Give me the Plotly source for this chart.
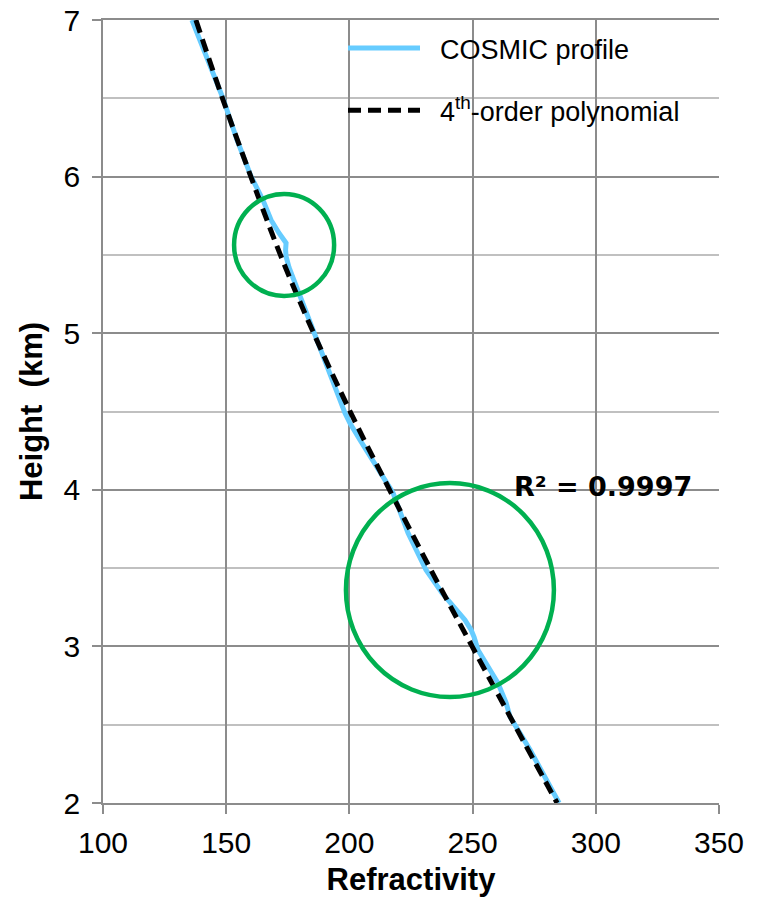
import plotly.graph_objects as go

# COSMIC refractivity profile (refractivity, height km)
cosmic_refractivity = [136.1, 148.7, 154.4, 160.1, 164.9, 168.2, 171.4, 174.3, 174.1, 174.3,
                       175.5, 179.1, 186.0, 190.9, 196.2, 198.2, 200.2, 204.3, 211.0, 217.7,
                       223.8, 227.4, 231.1, 237.6, 243.7, 246.9, 249.4, 250.6, 252.2, 260.3,
                       263.6, 265.2, 273.3, 285.1]
cosmic_height = [7.0, 6.5, 6.234, 6.0, 5.851, 5.723, 5.64, 5.576, 5.531, 5.49,
                 5.42, 5.276, 5.0, 4.784, 4.573, 4.49, 4.426, 4.318, 4.146, 3.98,
                 3.724, 3.616, 3.488, 3.341, 3.232, 3.169, 3.105, 3.06, 2.977, 2.766,
                 2.64, 2.55, 2.34, 2.0]

# 4th-order polynomial trendline
poly_refractivity = [137.7, 148.5, 160.0, 172.0, 185.5, 200.3, 216.3, 232.7, 249.8, 267.0, 284.3]
poly_height = [7.0, 6.5, 6.0, 5.5, 5.0, 4.5, 4.0, 3.5, 3.0, 2.5, 2.0]

x_ticks = [100, 150, 200, 250, 300, 350]
y_ticks = [2, 3, 4, 5, 6, 7]

# highlighted regions (data coordinates): x0, x1, y0, y1
circles = [
    (153.2, 193.8, 5.238, 5.889),
    (198.6, 283.0, 2.677, 4.043),
]
r2_text = "<b>R² = 0.9997</b>"

NB = "\u00a0\u00a0"

fig = go.Figure()
fig.add_trace(go.Scatter(
    x=cosmic_refractivity, y=cosmic_height, mode="lines", name=NB + "COSMIC profile",
    line=dict(color="#66CCFF", width=5), legendgroup="a"))
fig.add_trace(go.Scatter(
    x=poly_refractivity, y=poly_height, mode="lines",
    name=NB + "4<sup>th</sup>-order polynomial", line_shape="spline",
    line=dict(color="black", width=5, dash="13px,7px"), legendgroup="b"))

shapes = []
for (x0, x1, y0, y1) in circles:
    shapes.append(dict(type="circle", xref="x", yref="y", x0=x0, x1=x1, y0=y0, y1=y1,
                       line=dict(color="#00B050", width=4.5), layer="above"))
# white backing behind legend text
shapes.append(dict(type="rect", xref="paper", yref="paper",
                   x0=(420 - 103) / 616, x1=(708 - 103) / 616,
                   y0=1 - 118 / 783, y1=1.0, fillcolor="white",
                   line=dict(width=0), layer="between"))

grid_major = "#8C8C8C"
grid_minor = "#C0C0C0"

fig.update_layout(
    template="none",
    width=759, height=901,
    margin=dict(l=103, r=40, t=20, b=98, autoexpand=False),
    plot_bgcolor="white", paper_bgcolor="white",
    font=dict(family="Liberation Sans, Arial, sans-serif", color="black"),
    shapes=shapes,
    showlegend=True,
    legend=dict(x=(343 - 103) / 616, y=1 - 4 / 783, xanchor="left", yanchor="top",
                bgcolor="rgba(0,0,0,0)", font=dict(size=27),
                itemwidth=72, tracegroupgap=24),
    annotations=[dict(x=265.8, y=4.024, xref="x", yref="y", text=r2_text,
                      showarrow=False, xanchor="left", yanchor="middle",
                      font=dict(family="DejaVu Sans", size=27, color="black"))],
    xaxis=dict(range=[100, 350], tickvals=x_ticks, ticktext=[str(v) for v in x_ticks],
               automargin=False,
               showgrid=True, gridcolor=grid_major, gridwidth=1.5,
               showline=True, linecolor=grid_major, linewidth=1.5, mirror=True,
               ticks="outside", ticklen=9, tickcolor=grid_major, tickwidth=1.5,
               ticklabelstandoff=3, ticklabeloverflow="allow",
               tickfont=dict(size=30), zeroline=False,
               title=dict(text="<b>Refractivity</b>", font=dict(size=31), standoff=11)),
    yaxis=dict(range=[2, 7], tickvals=y_ticks, ticktext=[str(v) for v in y_ticks],
               automargin=False,
               showgrid=True, gridcolor=grid_major, gridwidth=1.5,
               showline=True, linecolor=grid_major, linewidth=1.5,
               ticks="outside", ticklen=9, tickcolor=grid_major, tickwidth=1.5,
               ticklabelstandoff=6, ticklabeloverflow="allow",
               tickfont=dict(size=30), zeroline=False,
               minor=dict(dtick=0.5, showgrid=True, gridcolor=grid_minor, gridwidth=1.5),
               title=dict(text="<b>Height  (km)</b>", font=dict(size=31), standoff=12)),
)

# remove the browser's default 8px page margin so the figure fills the window
fig.write_html("out.html", config={"displayModeBar": False},
               post_script="document.body.style.margin='0';document.body.style.overflow='hidden';")
